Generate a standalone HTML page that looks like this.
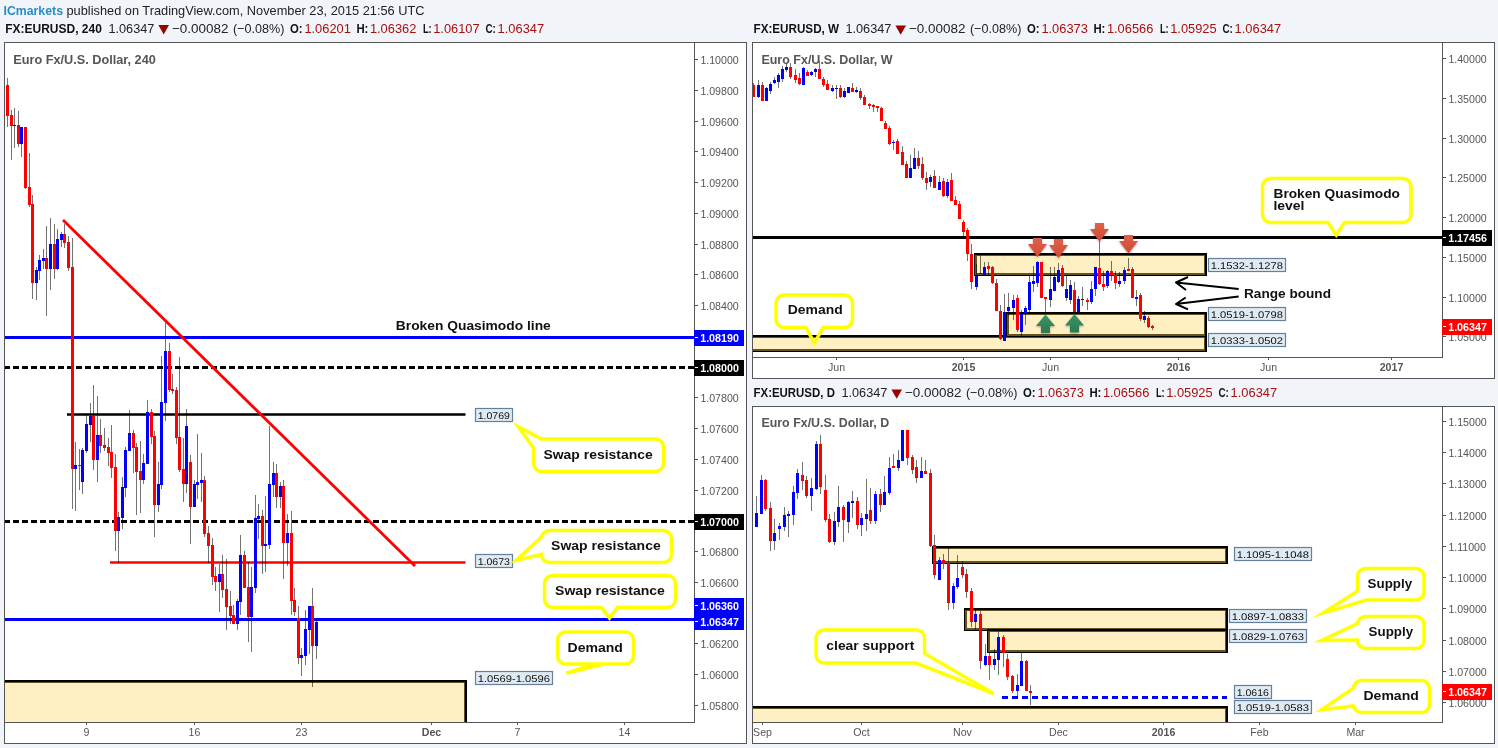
<!DOCTYPE html>
<html><head><meta charset="utf-8"><title>EURUSD</title>
<style>html,body{margin:0;padding:0;background:#f1f5f9;}body{width:1498px;height:748px;overflow:hidden;}svg{position:absolute;left:0;top:0;display:block;will-change:transform;font-family:"Liberation Sans",sans-serif;}</style>
</head><body>
<svg width="1498" height="748" viewBox="0 0 1498 748">
<defs>
<clipPath id="cpL"><rect x="5" y="43" width="689" height="679"/></clipPath>
<clipPath id="cpW"><rect x="753" y="43" width="689" height="314"/></clipPath>
<clipPath id="cpD"><rect x="753" y="407" width="689" height="315"/></clipPath>
<linearGradient id="gr" x1="0" y1="0" x2="0" y2="1"><stop offset="0" stop-color="#e0604a"/><stop offset="1" stop-color="#cf4a33"/></linearGradient>
<linearGradient id="gg" x1="0" y1="0" x2="0" y2="1"><stop offset="0" stop-color="#3a9468"/><stop offset="1" stop-color="#2b7a52"/></linearGradient>
<filter id="sh" x="-30%" y="-30%" width="160%" height="160%"><feGaussianBlur in="SourceAlpha" stdDeviation="0.8"/><feOffset dx="0" dy="1" result="b"/><feComponentTransfer><feFuncA type="linear" slope="0.35"/></feComponentTransfer><feMerge><feMergeNode/><feMergeNode in="SourceGraphic"/></feMerge></filter>
<filter id="glow" x="-20%" y="-20%" width="140%" height="140%"><feGaussianBlur stdDeviation="0.6"/></filter>
</defs>
<rect x="0" y="0" width="1498" height="748" fill="#f1f5f9" />
<text x="3.5" y="14.6" font-size="13" font-weight="bold" fill="#2a8cc4" text-anchor="start" textLength="59.5" lengthAdjust="spacingAndGlyphs" >ICmarkets</text>
<text x="66.5" y="14.6" font-size="13" font-weight="normal" fill="#222" text-anchor="start" textLength="358" lengthAdjust="spacingAndGlyphs" >published on TradingView.com, November 23, 2015 21:56 UTC</text>
<text x="5.2" y="32.6" font-size="13" font-weight="bold" fill="#111" text-anchor="start" textLength="96.7" lengthAdjust="spacingAndGlyphs" >FX:EURUSD, 240</text>
<text x="108.4" y="32.6" font-size="13" font-weight="normal" fill="#222" text-anchor="start" textLength="46" lengthAdjust="spacingAndGlyphs" >1.06347</text>
<path d="M158.4,25.0 L169.0,25.0 L163.70000000000002,34.4 Z" fill="#990000"/>
<text x="171.9" y="32.6" font-size="13" font-weight="normal" fill="#222" text-anchor="start" textLength="56.5" lengthAdjust="spacingAndGlyphs" >−0.00082</text>
<text x="232.9" y="32.6" font-size="13" font-weight="normal" fill="#222" text-anchor="start" textLength="51.5" lengthAdjust="spacingAndGlyphs" >(−0.08%)</text>
<text x="289.9" y="32.6" font-size="13" font-weight="bold" fill="#111" text-anchor="start" textLength="12.6" lengthAdjust="spacingAndGlyphs" >O:</text>
<text x="304.4" y="32.6" font-size="13" font-weight="normal" fill="#a81010" text-anchor="start" textLength="46.5" lengthAdjust="spacingAndGlyphs" >1.06201</text>
<text x="356.4" y="32.6" font-size="13" font-weight="bold" fill="#111" text-anchor="start" textLength="12" lengthAdjust="spacingAndGlyphs" >H:</text>
<text x="369.9" y="32.6" font-size="13" font-weight="normal" fill="#a81010" text-anchor="start" textLength="46.5" lengthAdjust="spacingAndGlyphs" >1.06362</text>
<text x="422.9" y="32.6" font-size="13" font-weight="bold" fill="#111" text-anchor="start" textLength="8.8" lengthAdjust="spacingAndGlyphs" >L:</text>
<text x="433.2" y="32.6" font-size="13" font-weight="normal" fill="#a81010" text-anchor="start" textLength="46.5" lengthAdjust="spacingAndGlyphs" >1.06107</text>
<text x="485.4" y="32.6" font-size="13" font-weight="bold" fill="#111" text-anchor="start" textLength="10.4" lengthAdjust="spacingAndGlyphs" >C:</text>
<text x="497.59999999999997" y="32.6" font-size="13" font-weight="normal" fill="#a81010" text-anchor="start" textLength="46.5" lengthAdjust="spacingAndGlyphs" >1.06347</text>
<text x="753.5" y="33" font-size="13" font-weight="bold" fill="#111" text-anchor="start" textLength="85.6" lengthAdjust="spacingAndGlyphs" >FX:EURUSD, W</text>
<text x="845.4" y="33" font-size="13" font-weight="normal" fill="#222" text-anchor="start" textLength="46" lengthAdjust="spacingAndGlyphs" >1.06347</text>
<path d="M895.4,25.4 L906.0,25.4 L900.6999999999999,34.8 Z" fill="#990000"/>
<text x="908.9" y="33" font-size="13" font-weight="normal" fill="#222" text-anchor="start" textLength="56.5" lengthAdjust="spacingAndGlyphs" >−0.00082</text>
<text x="969.9" y="33" font-size="13" font-weight="normal" fill="#222" text-anchor="start" textLength="51.5" lengthAdjust="spacingAndGlyphs" >(−0.08%)</text>
<text x="1026.9" y="33" font-size="13" font-weight="bold" fill="#111" text-anchor="start" textLength="12.6" lengthAdjust="spacingAndGlyphs" >O:</text>
<text x="1041.4" y="33" font-size="13" font-weight="normal" fill="#a81010" text-anchor="start" textLength="46.5" lengthAdjust="spacingAndGlyphs" >1.06373</text>
<text x="1093.4" y="33" font-size="13" font-weight="bold" fill="#111" text-anchor="start" textLength="12" lengthAdjust="spacingAndGlyphs" >H:</text>
<text x="1106.9" y="33" font-size="13" font-weight="normal" fill="#a81010" text-anchor="start" textLength="46.5" lengthAdjust="spacingAndGlyphs" >1.06566</text>
<text x="1159.9" y="33" font-size="13" font-weight="bold" fill="#111" text-anchor="start" textLength="8.8" lengthAdjust="spacingAndGlyphs" >L:</text>
<text x="1170.2" y="33" font-size="13" font-weight="normal" fill="#a81010" text-anchor="start" textLength="46.5" lengthAdjust="spacingAndGlyphs" >1.05925</text>
<text x="1222.4" y="33" font-size="13" font-weight="bold" fill="#111" text-anchor="start" textLength="10.4" lengthAdjust="spacingAndGlyphs" >C:</text>
<text x="1234.6000000000001" y="33" font-size="13" font-weight="normal" fill="#a81010" text-anchor="start" textLength="46.5" lengthAdjust="spacingAndGlyphs" >1.06347</text>
<text x="753.5" y="397" font-size="13" font-weight="bold" fill="#111" text-anchor="start" textLength="81.4" lengthAdjust="spacingAndGlyphs" >FX:EURUSD, D</text>
<text x="841.4" y="397" font-size="13" font-weight="normal" fill="#222" text-anchor="start" textLength="46" lengthAdjust="spacingAndGlyphs" >1.06347</text>
<path d="M891.4,389.4 L902.0,389.4 L896.6999999999999,398.8 Z" fill="#990000"/>
<text x="904.9" y="397" font-size="13" font-weight="normal" fill="#222" text-anchor="start" textLength="56.5" lengthAdjust="spacingAndGlyphs" >−0.00082</text>
<text x="965.9" y="397" font-size="13" font-weight="normal" fill="#222" text-anchor="start" textLength="51.5" lengthAdjust="spacingAndGlyphs" >(−0.08%)</text>
<text x="1022.9" y="397" font-size="13" font-weight="bold" fill="#111" text-anchor="start" textLength="12.6" lengthAdjust="spacingAndGlyphs" >O:</text>
<text x="1037.4" y="397" font-size="13" font-weight="normal" fill="#a81010" text-anchor="start" textLength="46.5" lengthAdjust="spacingAndGlyphs" >1.06373</text>
<text x="1089.4" y="397" font-size="13" font-weight="bold" fill="#111" text-anchor="start" textLength="12" lengthAdjust="spacingAndGlyphs" >H:</text>
<text x="1102.9" y="397" font-size="13" font-weight="normal" fill="#a81010" text-anchor="start" textLength="46.5" lengthAdjust="spacingAndGlyphs" >1.06566</text>
<text x="1155.9" y="397" font-size="13" font-weight="bold" fill="#111" text-anchor="start" textLength="8.8" lengthAdjust="spacingAndGlyphs" >L:</text>
<text x="1166.2" y="397" font-size="13" font-weight="normal" fill="#a81010" text-anchor="start" textLength="46.5" lengthAdjust="spacingAndGlyphs" >1.05925</text>
<text x="1218.4" y="397" font-size="13" font-weight="bold" fill="#111" text-anchor="start" textLength="10.4" lengthAdjust="spacingAndGlyphs" >C:</text>
<text x="1230.6000000000001" y="397" font-size="13" font-weight="normal" fill="#a81010" text-anchor="start" textLength="46.5" lengthAdjust="spacingAndGlyphs" >1.06347</text>
<g shape-rendering="crispEdges">
<rect x="4" y="42" width="743" height="702" fill="#555555" />
<rect x="5" y="43" width="741" height="700" fill="#fff" />
<rect x="694" y="42" width="1" height="681" fill="#555555" />
<rect x="4" y="722" width="690" height="1" fill="#555555" />
</g>
<g clip-path="url(#cpL)">
<g shape-rendering="crispEdges">
<rect x="2" y="680" width="465" height="80" fill="#000" />
<rect x="3" y="682" width="462" height="77" fill="#65521f" />
<rect x="5" y="683" width="459" height="74" fill="#fff0c4" />
</g>
<g shape-rendering="crispEdges">
<rect x="5" y="336" width="689" height="3" fill="#0000ff" />
<rect x="5" y="618" width="689" height="3" fill="#0000ff" />
</g>
<line x1="4" y1="367.5" x2="694" y2="367.5" stroke="#000" stroke-width="3" stroke-dasharray="6 3" shape-rendering="crispEdges"/>
<line x1="4" y1="521.5" x2="694" y2="521.5" stroke="#000" stroke-width="3" stroke-dasharray="6 3" shape-rendering="crispEdges"/>
<line x1="67" y1="414.5" x2="465.5" y2="414.5" stroke="#000" stroke-width="2.5"/>
<line x1="110" y1="562.5" x2="465.5" y2="562.5" stroke="#ff0000" stroke-width="2.5"/>
<line x1="63" y1="220" x2="415" y2="566" stroke="#ff0000" stroke-width="2.8"/>
<g shape-rendering="crispEdges">
<rect x="7" y="78" width="1" height="49" fill="#000" fill-opacity="0.55"/>
<rect x="6" y="85" width="3" height="31" fill="#ff0000"/>
<rect x="11" y="110" width="1" height="50" fill="#000" fill-opacity="0.55"/>
<rect x="10" y="115" width="3" height="11" fill="#ff0000"/>
<rect x="14" y="108" width="1" height="40" fill="#000" fill-opacity="0.55"/>
<rect x="13" y="125" width="3" height="1" fill="#0000ff"/>
<rect x="18" y="111" width="1" height="36" fill="#000" fill-opacity="0.55"/>
<rect x="17" y="125" width="3" height="19" fill="#ff0000"/>
<rect x="21" y="127" width="1" height="30" fill="#000" fill-opacity="0.55"/>
<rect x="20" y="127" width="3" height="17" fill="#0000ff"/>
<rect x="25" y="127" width="1" height="62" fill="#000" fill-opacity="0.55"/>
<rect x="24" y="127" width="3" height="61" fill="#ff0000"/>
<rect x="29" y="153" width="1" height="54" fill="#000" fill-opacity="0.55"/>
<rect x="28" y="187" width="3" height="18" fill="#ff0000"/>
<rect x="32" y="195" width="1" height="104" fill="#000" fill-opacity="0.55"/>
<rect x="31" y="204" width="3" height="79" fill="#ff0000"/>
<rect x="36" y="267" width="1" height="33" fill="#000" fill-opacity="0.55"/>
<rect x="35" y="270" width="3" height="13" fill="#0000ff"/>
<rect x="39" y="255" width="1" height="25" fill="#000" fill-opacity="0.55"/>
<rect x="38" y="260" width="3" height="11" fill="#0000ff"/>
<rect x="43" y="249" width="1" height="20" fill="#000" fill-opacity="0.55"/>
<rect x="42" y="258" width="3" height="3" fill="#0000ff"/>
<rect x="46" y="226" width="1" height="90" fill="#000" fill-opacity="0.55"/>
<rect x="45" y="258" width="3" height="11" fill="#ff0000"/>
<rect x="50" y="218" width="1" height="72" fill="#000" fill-opacity="0.55"/>
<rect x="49" y="244" width="3" height="25" fill="#0000ff"/>
<rect x="54" y="224" width="1" height="55" fill="#000" fill-opacity="0.55"/>
<rect x="53" y="244" width="3" height="25" fill="#ff0000"/>
<rect x="57" y="229" width="1" height="41" fill="#000" fill-opacity="0.55"/>
<rect x="56" y="239" width="3" height="30" fill="#0000ff"/>
<rect x="61" y="232" width="1" height="15" fill="#000" fill-opacity="0.55"/>
<rect x="60" y="234" width="3" height="6" fill="#0000ff"/>
<rect x="64" y="224" width="1" height="24" fill="#000" fill-opacity="0.55"/>
<rect x="63" y="234" width="3" height="9" fill="#ff0000"/>
<rect x="68" y="236" width="1" height="35" fill="#000" fill-opacity="0.55"/>
<rect x="67" y="242" width="3" height="26" fill="#ff0000"/>
<rect x="72" y="238" width="1" height="271" fill="#000" fill-opacity="0.55"/>
<rect x="71" y="267" width="3" height="202" fill="#ff0000"/>
<rect x="75" y="442" width="1" height="69" fill="#000" fill-opacity="0.55"/>
<rect x="74" y="465" width="3" height="4" fill="#0000ff"/>
<rect x="79" y="449" width="1" height="41" fill="#000" fill-opacity="0.55"/>
<rect x="78" y="465" width="3" height="1" fill="#ff0000"/>
<rect x="82" y="448" width="1" height="46" fill="#000" fill-opacity="0.55"/>
<rect x="81" y="450" width="3" height="32" fill="#0000ff"/>
<rect x="86" y="414" width="1" height="39" fill="#000" fill-opacity="0.55"/>
<rect x="85" y="424" width="3" height="27" fill="#0000ff"/>
<rect x="90" y="403" width="1" height="39" fill="#000" fill-opacity="0.55"/>
<rect x="89" y="416" width="3" height="9" fill="#0000ff"/>
<rect x="93" y="385" width="1" height="85" fill="#000" fill-opacity="0.55"/>
<rect x="92" y="416" width="3" height="44" fill="#ff0000"/>
<rect x="97" y="396" width="1" height="86" fill="#000" fill-opacity="0.55"/>
<rect x="96" y="435" width="3" height="25" fill="#0000ff"/>
<rect x="100" y="419" width="1" height="34" fill="#000" fill-opacity="0.55"/>
<rect x="99" y="435" width="3" height="11" fill="#ff0000"/>
<rect x="104" y="428" width="1" height="23" fill="#000" fill-opacity="0.55"/>
<rect x="103" y="445" width="3" height="3" fill="#ff0000"/>
<rect x="108" y="438" width="1" height="28" fill="#000" fill-opacity="0.55"/>
<rect x="107" y="447" width="3" height="6" fill="#ff0000"/>
<rect x="111" y="425" width="1" height="53" fill="#000" fill-opacity="0.55"/>
<rect x="110" y="452" width="3" height="16" fill="#ff0000"/>
<rect x="115" y="454" width="1" height="97" fill="#000" fill-opacity="0.55"/>
<rect x="114" y="467" width="3" height="64" fill="#ff0000"/>
<rect x="118" y="512" width="1" height="51" fill="#000" fill-opacity="0.55"/>
<rect x="117" y="517" width="3" height="14" fill="#0000ff"/>
<rect x="122" y="477" width="1" height="52" fill="#000" fill-opacity="0.55"/>
<rect x="121" y="487" width="3" height="31" fill="#0000ff"/>
<rect x="125" y="447" width="1" height="50" fill="#000" fill-opacity="0.55"/>
<rect x="124" y="450" width="3" height="38" fill="#0000ff"/>
<rect x="129" y="410" width="1" height="41" fill="#000" fill-opacity="0.55"/>
<rect x="128" y="433" width="3" height="18" fill="#0000ff"/>
<rect x="133" y="430" width="1" height="43" fill="#000" fill-opacity="0.55"/>
<rect x="132" y="433" width="3" height="15" fill="#ff0000"/>
<rect x="136" y="443" width="1" height="72" fill="#000" fill-opacity="0.55"/>
<rect x="135" y="447" width="3" height="25" fill="#ff0000"/>
<rect x="140" y="441" width="1" height="72" fill="#000" fill-opacity="0.55"/>
<rect x="139" y="471" width="3" height="9" fill="#ff0000"/>
<rect x="143" y="454" width="1" height="30" fill="#000" fill-opacity="0.55"/>
<rect x="142" y="463" width="3" height="17" fill="#0000ff"/>
<rect x="147" y="400" width="1" height="64" fill="#000" fill-opacity="0.55"/>
<rect x="146" y="412" width="3" height="52" fill="#0000ff"/>
<rect x="151" y="409" width="1" height="35" fill="#000" fill-opacity="0.55"/>
<rect x="150" y="412" width="3" height="25" fill="#ff0000"/>
<rect x="154" y="431" width="1" height="106" fill="#000" fill-opacity="0.55"/>
<rect x="153" y="436" width="3" height="69" fill="#ff0000"/>
<rect x="158" y="462" width="1" height="50" fill="#000" fill-opacity="0.55"/>
<rect x="157" y="484" width="3" height="21" fill="#0000ff"/>
<rect x="161" y="356" width="1" height="133" fill="#000" fill-opacity="0.55"/>
<rect x="160" y="402" width="3" height="83" fill="#0000ff"/>
<rect x="165" y="323" width="1" height="98" fill="#000" fill-opacity="0.55"/>
<rect x="164" y="351" width="3" height="52" fill="#0000ff"/>
<rect x="169" y="343" width="1" height="49" fill="#000" fill-opacity="0.55"/>
<rect x="168" y="351" width="3" height="39" fill="#ff0000"/>
<rect x="172" y="374" width="1" height="20" fill="#000" fill-opacity="0.55"/>
<rect x="171" y="389" width="3" height="2" fill="#ff0000"/>
<rect x="176" y="387" width="1" height="57" fill="#000" fill-opacity="0.55"/>
<rect x="175" y="390" width="3" height="48" fill="#ff0000"/>
<rect x="179" y="357" width="1" height="115" fill="#000" fill-opacity="0.55"/>
<rect x="178" y="437" width="3" height="33" fill="#ff0000"/>
<rect x="183" y="438" width="1" height="64" fill="#000" fill-opacity="0.55"/>
<rect x="182" y="469" width="3" height="15" fill="#ff0000"/>
<rect x="186" y="409" width="1" height="84" fill="#000" fill-opacity="0.55"/>
<rect x="185" y="426" width="3" height="58" fill="#0000ff"/>
<rect x="190" y="455" width="1" height="89" fill="#000" fill-opacity="0.55"/>
<rect x="189" y="462" width="3" height="45" fill="#ff0000"/>
<rect x="194" y="480" width="1" height="27" fill="#000" fill-opacity="0.55"/>
<rect x="193" y="484" width="3" height="23" fill="#0000ff"/>
<rect x="197" y="434" width="1" height="65" fill="#000" fill-opacity="0.55"/>
<rect x="196" y="482" width="3" height="3" fill="#0000ff"/>
<rect x="201" y="453" width="1" height="49" fill="#000" fill-opacity="0.55"/>
<rect x="200" y="480" width="3" height="3" fill="#0000ff"/>
<rect x="204" y="476" width="1" height="61" fill="#000" fill-opacity="0.55"/>
<rect x="203" y="480" width="3" height="54" fill="#ff0000"/>
<rect x="208" y="526" width="1" height="37" fill="#000" fill-opacity="0.55"/>
<rect x="207" y="533" width="3" height="13" fill="#ff0000"/>
<rect x="212" y="538" width="1" height="47" fill="#000" fill-opacity="0.55"/>
<rect x="211" y="545" width="3" height="32" fill="#ff0000"/>
<rect x="215" y="567" width="1" height="24" fill="#000" fill-opacity="0.55"/>
<rect x="214" y="576" width="3" height="6" fill="#ff0000"/>
<rect x="219" y="564" width="1" height="48" fill="#000" fill-opacity="0.55"/>
<rect x="218" y="574" width="3" height="8" fill="#0000ff"/>
<rect x="222" y="555" width="1" height="43" fill="#000" fill-opacity="0.55"/>
<rect x="221" y="574" width="3" height="16" fill="#ff0000"/>
<rect x="226" y="559" width="1" height="71" fill="#000" fill-opacity="0.55"/>
<rect x="225" y="589" width="3" height="18" fill="#ff0000"/>
<rect x="230" y="591" width="1" height="33" fill="#000" fill-opacity="0.55"/>
<rect x="229" y="606" width="3" height="10" fill="#ff0000"/>
<rect x="233" y="605" width="1" height="19" fill="#000" fill-opacity="0.55"/>
<rect x="232" y="615" width="3" height="9" fill="#ff0000"/>
<rect x="237" y="599" width="1" height="31" fill="#000" fill-opacity="0.55"/>
<rect x="236" y="601" width="3" height="23" fill="#0000ff"/>
<rect x="240" y="535" width="1" height="80" fill="#000" fill-opacity="0.55"/>
<rect x="239" y="555" width="3" height="47" fill="#0000ff"/>
<rect x="244" y="551" width="1" height="37" fill="#000" fill-opacity="0.55"/>
<rect x="243" y="555" width="3" height="33" fill="#ff0000"/>
<rect x="248" y="562" width="1" height="80" fill="#000" fill-opacity="0.55"/>
<rect x="247" y="587" width="3" height="30" fill="#ff0000"/>
<rect x="251" y="567" width="1" height="85" fill="#000" fill-opacity="0.55"/>
<rect x="250" y="587" width="3" height="30" fill="#0000ff"/>
<rect x="255" y="495" width="1" height="98" fill="#000" fill-opacity="0.55"/>
<rect x="254" y="518" width="3" height="70" fill="#0000ff"/>
<rect x="258" y="504" width="1" height="35" fill="#000" fill-opacity="0.55"/>
<rect x="257" y="516" width="3" height="3" fill="#0000ff"/>
<rect x="262" y="510" width="1" height="64" fill="#000" fill-opacity="0.55"/>
<rect x="261" y="516" width="3" height="30" fill="#ff0000"/>
<rect x="265" y="496" width="1" height="76" fill="#000" fill-opacity="0.55"/>
<rect x="264" y="544" width="3" height="2" fill="#0000ff"/>
<rect x="269" y="426" width="1" height="123" fill="#000" fill-opacity="0.55"/>
<rect x="268" y="484" width="3" height="61" fill="#0000ff"/>
<rect x="273" y="462" width="1" height="35" fill="#000" fill-opacity="0.55"/>
<rect x="272" y="473" width="3" height="12" fill="#0000ff"/>
<rect x="276" y="464" width="1" height="44" fill="#000" fill-opacity="0.55"/>
<rect x="275" y="473" width="3" height="24" fill="#ff0000"/>
<rect x="280" y="482" width="1" height="26" fill="#000" fill-opacity="0.55"/>
<rect x="279" y="486" width="3" height="11" fill="#0000ff"/>
<rect x="283" y="480" width="1" height="99" fill="#000" fill-opacity="0.55"/>
<rect x="282" y="486" width="3" height="57" fill="#ff0000"/>
<rect x="287" y="514" width="1" height="52" fill="#000" fill-opacity="0.55"/>
<rect x="286" y="533" width="3" height="10" fill="#0000ff"/>
<rect x="291" y="511" width="1" height="104" fill="#000" fill-opacity="0.55"/>
<rect x="290" y="533" width="3" height="68" fill="#ff0000"/>
<rect x="294" y="588" width="1" height="28" fill="#000" fill-opacity="0.55"/>
<rect x="293" y="600" width="3" height="12" fill="#ff0000"/>
<rect x="298" y="606" width="1" height="58" fill="#000" fill-opacity="0.55"/>
<rect x="297" y="618" width="3" height="40" fill="#ff0000"/>
<rect x="301" y="648" width="1" height="28" fill="#000" fill-opacity="0.55"/>
<rect x="300" y="655" width="3" height="3" fill="#0000ff"/>
<rect x="305" y="610" width="1" height="55" fill="#000" fill-opacity="0.55"/>
<rect x="304" y="629" width="3" height="27" fill="#0000ff"/>
<rect x="309" y="606" width="1" height="48" fill="#000" fill-opacity="0.55"/>
<rect x="308" y="606" width="3" height="24" fill="#0000ff"/>
<rect x="312" y="588" width="1" height="99" fill="#000" fill-opacity="0.55"/>
<rect x="311" y="606" width="3" height="40" fill="#ff0000"/>
<rect x="316" y="620" width="1" height="39" fill="#000" fill-opacity="0.55"/>
<rect x="315" y="622" width="3" height="24" fill="#0000ff"/>
</g>
</g>
<text x="13.3" y="63.5" font-size="13" font-weight="bold" fill="#555" text-anchor="start" textLength="142.5" lengthAdjust="spacingAndGlyphs" >Euro Fx/U.S. Dollar, 240</text>
<text x="395.8" y="329.7" font-size="12.5" font-weight="bold" fill="#111" text-anchor="start" textLength="155" lengthAdjust="spacingAndGlyphs" >Broken Quasimodo line</text>
<rect x="475.5" y="408.5" width="37" height="13" fill="#e0eaf3" stroke="#64809c" stroke-width="1.2"/>
<text x="477.7" y="419.0" font-size="9.7" font-weight="normal" fill="#111" text-anchor="start" textLength="32.2" lengthAdjust="spacingAndGlyphs" style="text-rendering:geometricPrecision">1.0769</text>
<rect x="475.5" y="554.5" width="37" height="13" fill="#e0eaf3" stroke="#64809c" stroke-width="1.2"/>
<text x="477.7" y="565.0" font-size="9.7" font-weight="normal" fill="#111" text-anchor="start" textLength="32.2" lengthAdjust="spacingAndGlyphs" style="text-rendering:geometricPrecision">1.0673</text>
<rect x="475.5" y="671.5" width="77" height="13" fill="#e0eaf3" stroke="#64809c" stroke-width="1.2"/>
<text x="477.7" y="682.0" font-size="9.7" font-weight="normal" fill="#111" text-anchor="start" textLength="72.2" lengthAdjust="spacingAndGlyphs" style="text-rendering:geometricPrecision">1.0569-1.0596</text>
<path d="M541.5,439.0 L655.5,439.0 A8,8 0 0 1 663.5,447.0 L663.5,463.5 A8,8 0 0 1 655.5,471.5 L541.5,471.5 A8,8 0 0 1 533.5,463.5 L533.5,448 L518.39,426.78 Z" fill="none" stroke="#ffff00" stroke-opacity="0.55" stroke-width="3.8" stroke-linejoin="miter" stroke-miterlimit="10" filter="url(#glow)"/>
<path d="M541.5,439.0 L655.5,439.0 A8,8 0 0 1 663.5,447.0 L663.5,463.5 A8,8 0 0 1 655.5,471.5 L541.5,471.5 A8,8 0 0 1 533.5,463.5 L533.5,448 L518.39,426.78 Z" fill="none" stroke="#ffff00" stroke-width="3" stroke-linejoin="miter" stroke-miterlimit="10"/>
<text x="543.4" y="458.8" font-size="12.5" font-weight="bold" fill="#111" text-anchor="start" textLength="109.4" lengthAdjust="spacingAndGlyphs" >Swap resistance</text>
<path d="M549.5,530.5 L663.5,530.5 A8,8 0 0 1 671.5,538.5 L671.5,554.5 A8,8 0 0 1 663.5,562.5 L549.5,562.5 A8,8 0 0 1 541.5,554.5 L541.5,554.5 L516.18,560.28 L541.5,537 L541.5,538.5 A8,8 0 0 1 549.5,530.5 Z" fill="none" stroke="#ffff00" stroke-opacity="0.55" stroke-width="3.8" stroke-linejoin="miter" stroke-miterlimit="10" filter="url(#glow)"/>
<path d="M549.5,530.5 L663.5,530.5 A8,8 0 0 1 671.5,538.5 L671.5,554.5 A8,8 0 0 1 663.5,562.5 L549.5,562.5 A8,8 0 0 1 541.5,554.5 L541.5,554.5 L516.18,560.28 L541.5,537 L541.5,538.5 A8,8 0 0 1 549.5,530.5 Z" fill="none" stroke="#ffff00" stroke-width="3" stroke-linejoin="miter" stroke-miterlimit="10"/>
<text x="551.1" y="549.8" font-size="12.5" font-weight="bold" fill="#111" text-anchor="start" textLength="109.6" lengthAdjust="spacingAndGlyphs" >Swap resistance</text>
<path d="M552.5,575.5 L667.5,575.5 A8,8 0 0 1 675.5,583.5 L675.5,599.5 A8,8 0 0 1 667.5,607.5 L617.5,607.5 L609.5,618.02 L601.5,607.5 L552.5,607.5 A8,8 0 0 1 544.5,599.5 L544.5,583.5 A8,8 0 0 1 552.5,575.5 Z" fill="none" stroke="#ffff00" stroke-opacity="0.55" stroke-width="3.8" stroke-linejoin="miter" stroke-miterlimit="10" filter="url(#glow)"/>
<path d="M552.5,575.5 L667.5,575.5 A8,8 0 0 1 675.5,583.5 L675.5,599.5 A8,8 0 0 1 667.5,607.5 L617.5,607.5 L609.5,618.02 L601.5,607.5 L552.5,607.5 A8,8 0 0 1 544.5,599.5 L544.5,583.5 A8,8 0 0 1 552.5,575.5 Z" fill="none" stroke="#ffff00" stroke-width="3" stroke-linejoin="miter" stroke-miterlimit="10"/>
<text x="555.1" y="594.6" font-size="12.5" font-weight="bold" fill="#111" text-anchor="start" textLength="109.8" lengthAdjust="spacingAndGlyphs" >Swap resistance</text>
<path d="M565.5,632.0 L625.5,632.0 A8,8 0 0 1 633.5,640.0 L633.5,656.0 A8,8 0 0 1 625.5,664.0 L604,664.0 L566.5,673.2 L593,664.0 L565.5,664.0 A8,8 0 0 1 557.5,656.0 L557.5,640.0 A8,8 0 0 1 565.5,632.0 Z" fill="none" stroke="#ffff00" stroke-opacity="0.55" stroke-width="3.8" stroke-linejoin="miter" stroke-miterlimit="10" filter="url(#glow)"/>
<path d="M565.5,632.0 L625.5,632.0 A8,8 0 0 1 633.5,640.0 L633.5,656.0 A8,8 0 0 1 625.5,664.0 L604,664.0 L566.5,673.2 L593,664.0 L565.5,664.0 A8,8 0 0 1 557.5,656.0 L557.5,640.0 A8,8 0 0 1 565.5,632.0 Z" fill="none" stroke="#ffff00" stroke-width="3" stroke-linejoin="miter" stroke-miterlimit="10"/>
<text x="567.5" y="651.8" font-size="12.5" font-weight="bold" fill="#111" text-anchor="start" textLength="55.4" lengthAdjust="spacingAndGlyphs" >Demand</text>
<rect x="695" y="59" width="3" height="1" fill="#555555" shape-rendering="crispEdges"/>
<text x="700.4" y="64.1" font-size="10.6" font-weight="normal" fill="#555555" text-anchor="start" >1.10000</text>
<rect x="695" y="90" width="3" height="1" fill="#555555" shape-rendering="crispEdges"/>
<text x="700.4" y="95.1" font-size="10.6" font-weight="normal" fill="#555555" text-anchor="start" >1.09800</text>
<rect x="695" y="121" width="3" height="1" fill="#555555" shape-rendering="crispEdges"/>
<text x="700.4" y="126.1" font-size="10.6" font-weight="normal" fill="#555555" text-anchor="start" >1.09600</text>
<rect x="695" y="151" width="3" height="1" fill="#555555" shape-rendering="crispEdges"/>
<text x="700.4" y="156.1" font-size="10.6" font-weight="normal" fill="#555555" text-anchor="start" >1.09400</text>
<rect x="695" y="182" width="3" height="1" fill="#555555" shape-rendering="crispEdges"/>
<text x="700.4" y="187.1" font-size="10.6" font-weight="normal" fill="#555555" text-anchor="start" >1.09200</text>
<rect x="695" y="213" width="3" height="1" fill="#555555" shape-rendering="crispEdges"/>
<text x="700.4" y="218.1" font-size="10.6" font-weight="normal" fill="#555555" text-anchor="start" >1.09000</text>
<rect x="695" y="244" width="3" height="1" fill="#555555" shape-rendering="crispEdges"/>
<text x="700.4" y="249.1" font-size="10.6" font-weight="normal" fill="#555555" text-anchor="start" >1.08800</text>
<rect x="695" y="274" width="3" height="1" fill="#555555" shape-rendering="crispEdges"/>
<text x="700.4" y="279.1" font-size="10.6" font-weight="normal" fill="#555555" text-anchor="start" >1.08600</text>
<rect x="695" y="305" width="3" height="1" fill="#555555" shape-rendering="crispEdges"/>
<text x="700.4" y="310.1" font-size="10.6" font-weight="normal" fill="#555555" text-anchor="start" >1.08400</text>
<rect x="695" y="397" width="3" height="1" fill="#555555" shape-rendering="crispEdges"/>
<text x="700.4" y="402.1" font-size="10.6" font-weight="normal" fill="#555555" text-anchor="start" >1.07800</text>
<rect x="695" y="428" width="3" height="1" fill="#555555" shape-rendering="crispEdges"/>
<text x="700.4" y="433.1" font-size="10.6" font-weight="normal" fill="#555555" text-anchor="start" >1.07600</text>
<rect x="695" y="459" width="3" height="1" fill="#555555" shape-rendering="crispEdges"/>
<text x="700.4" y="464.1" font-size="10.6" font-weight="normal" fill="#555555" text-anchor="start" >1.07400</text>
<rect x="695" y="490" width="3" height="1" fill="#555555" shape-rendering="crispEdges"/>
<text x="700.4" y="495.1" font-size="10.6" font-weight="normal" fill="#555555" text-anchor="start" >1.07200</text>
<rect x="695" y="551" width="3" height="1" fill="#555555" shape-rendering="crispEdges"/>
<text x="700.4" y="556.1" font-size="10.6" font-weight="normal" fill="#555555" text-anchor="start" >1.06800</text>
<rect x="695" y="582" width="3" height="1" fill="#555555" shape-rendering="crispEdges"/>
<text x="700.4" y="587.1" font-size="10.6" font-weight="normal" fill="#555555" text-anchor="start" >1.06600</text>
<rect x="695" y="643" width="3" height="1" fill="#555555" shape-rendering="crispEdges"/>
<text x="700.4" y="648.1" font-size="10.6" font-weight="normal" fill="#555555" text-anchor="start" >1.06200</text>
<rect x="695" y="674" width="3" height="1" fill="#555555" shape-rendering="crispEdges"/>
<text x="700.4" y="679.1" font-size="10.6" font-weight="normal" fill="#555555" text-anchor="start" >1.06000</text>
<rect x="695" y="705" width="3" height="1" fill="#555555" shape-rendering="crispEdges"/>
<text x="700.4" y="710.1" font-size="10.6" font-weight="normal" fill="#555555" text-anchor="start" >1.05800</text>
<rect x="694" y="330" width="50" height="16" fill="#0000ff" shape-rendering="crispEdges"/>
<rect x="695" y="337" width="3" height="1" fill="#fff" shape-rendering="crispEdges"/>
<text x="700.2" y="341.9" font-size="10.7" font-weight="bold" fill="#fff" text-anchor="start" >1.08190</text>
<rect x="694" y="360" width="50" height="16" fill="#000" shape-rendering="crispEdges"/>
<rect x="695" y="367" width="3" height="1" fill="#fff" shape-rendering="crispEdges"/>
<text x="700.2" y="371.9" font-size="10.7" font-weight="bold" fill="#fff" text-anchor="start" >1.08000</text>
<rect x="694" y="514" width="50" height="16" fill="#000" shape-rendering="crispEdges"/>
<rect x="695" y="521" width="3" height="1" fill="#fff" shape-rendering="crispEdges"/>
<text x="700.2" y="525.9" font-size="10.7" font-weight="bold" fill="#fff" text-anchor="start" >1.07000</text>
<rect x="694" y="598" width="50" height="16" fill="#0000ff" shape-rendering="crispEdges"/>
<rect x="695" y="605" width="3" height="1" fill="#fff" shape-rendering="crispEdges"/>
<text x="700.2" y="609.9" font-size="10.7" font-weight="bold" fill="#fff" text-anchor="start" >1.06360</text>
<rect x="694" y="614" width="50" height="16" fill="#0000ff" shape-rendering="crispEdges"/>
<rect x="695" y="621" width="3" height="1" fill="#fff" shape-rendering="crispEdges"/>
<text x="700.2" y="625.9" font-size="10.7" font-weight="bold" fill="#fff" text-anchor="start" >1.06347</text>
<rect x="86" y="723" width="1" height="2" fill="#555555" shape-rendering="crispEdges"/>
<text x="86.5" y="735.5" font-size="10.6" font-weight="normal" fill="#555555" text-anchor="middle" >9</text>
<rect x="194" y="723" width="1" height="2" fill="#555555" shape-rendering="crispEdges"/>
<text x="194.5" y="735.5" font-size="10.6" font-weight="normal" fill="#555555" text-anchor="middle" >16</text>
<rect x="301" y="723" width="1" height="2" fill="#555555" shape-rendering="crispEdges"/>
<text x="301.5" y="735.5" font-size="10.6" font-weight="normal" fill="#555555" text-anchor="middle" >23</text>
<rect x="431" y="723" width="1" height="2" fill="#555555" shape-rendering="crispEdges"/>
<text x="431.5" y="735.5" font-size="10.6" font-weight="bold" fill="#555555" text-anchor="middle" >Dec</text>
<rect x="517" y="723" width="1" height="2" fill="#555555" shape-rendering="crispEdges"/>
<text x="517.5" y="735.5" font-size="10.6" font-weight="normal" fill="#555555" text-anchor="middle" >7</text>
<rect x="624" y="723" width="1" height="2" fill="#555555" shape-rendering="crispEdges"/>
<text x="624.5" y="735.5" font-size="10.6" font-weight="normal" fill="#555555" text-anchor="middle" >14</text>
<g shape-rendering="crispEdges">
<rect x="752" y="42" width="743" height="337" fill="#555555" />
<rect x="753" y="43" width="741" height="335" fill="#fff" />
<rect x="1442" y="42" width="1" height="316" fill="#555555" />
<rect x="752" y="357" width="690" height="1" fill="#555555" />
</g>
<g clip-path="url(#cpW)">
<g shape-rendering="crispEdges">
<rect x="750" y="335" width="457" height="17" fill="#000" />
<rect x="751" y="337" width="454" height="14" fill="#65521f" />
<rect x="753" y="338" width="451" height="11" fill="#fff0c4" />
</g>
<g shape-rendering="crispEdges">
<rect x="1006" y="312" width="201" height="25" fill="#000" />
<rect x="1007" y="314" width="198" height="22" fill="#65521f" />
<rect x="1009" y="315" width="195" height="19" fill="#fff0c4" />
</g>
<g shape-rendering="crispEdges">
<rect x="974" y="253" width="233" height="23" fill="#000" />
<rect x="975" y="255" width="230" height="20" fill="#65521f" />
<rect x="977" y="256" width="227" height="17" fill="#fff0c4" />
</g>
<rect x="753" y="236" width="689" height="3" fill="#000" shape-rendering="crispEdges"/>
<g shape-rendering="crispEdges">
<rect x="753" y="83" width="1" height="14" fill="#000" fill-opacity="0.55"/>
<rect x="752" y="85" width="3" height="12" fill="#ff0000"/>
<rect x="758" y="80" width="1" height="18" fill="#000" fill-opacity="0.55"/>
<rect x="757" y="85" width="3" height="12" fill="#0000ff"/>
<rect x="762" y="82" width="1" height="19" fill="#000" fill-opacity="0.55"/>
<rect x="761" y="85" width="3" height="16" fill="#ff0000"/>
<rect x="766" y="87" width="1" height="14" fill="#000" fill-opacity="0.55"/>
<rect x="765" y="88" width="3" height="13" fill="#0000ff"/>
<rect x="770" y="82" width="1" height="12" fill="#000" fill-opacity="0.55"/>
<rect x="769" y="84" width="3" height="7" fill="#0000ff"/>
<rect x="774" y="77" width="1" height="7" fill="#000" fill-opacity="0.55"/>
<rect x="773" y="80" width="3" height="3" fill="#0000ff"/>
<rect x="778" y="73" width="1" height="15" fill="#000" fill-opacity="0.55"/>
<rect x="777" y="75" width="3" height="7" fill="#0000ff"/>
<rect x="782" y="66" width="1" height="16" fill="#000" fill-opacity="0.55"/>
<rect x="781" y="69" width="3" height="10" fill="#0000ff"/>
<rect x="786" y="63" width="1" height="9" fill="#000" fill-opacity="0.55"/>
<rect x="785" y="67" width="3" height="3" fill="#0000ff"/>
<rect x="790" y="63" width="1" height="16" fill="#000" fill-opacity="0.55"/>
<rect x="789" y="67" width="3" height="10" fill="#ff0000"/>
<rect x="795" y="69" width="1" height="14" fill="#000" fill-opacity="0.55"/>
<rect x="794" y="75" width="3" height="5" fill="#ff0000"/>
<rect x="799" y="73" width="1" height="12" fill="#000" fill-opacity="0.55"/>
<rect x="798" y="78" width="3" height="6" fill="#ff0000"/>
<rect x="803" y="67" width="1" height="18" fill="#000" fill-opacity="0.55"/>
<rect x="802" y="68" width="3" height="17" fill="#0000ff"/>
<rect x="807" y="70" width="1" height="6" fill="#000" fill-opacity="0.55"/>
<rect x="806" y="72" width="3" height="4" fill="#ff0000"/>
<rect x="811" y="71" width="1" height="5" fill="#000" fill-opacity="0.55"/>
<rect x="810" y="72" width="3" height="3" fill="#0000ff"/>
<rect x="815" y="68" width="1" height="9" fill="#000" fill-opacity="0.55"/>
<rect x="814" y="69" width="3" height="3" fill="#0000ff"/>
<rect x="819" y="61" width="1" height="18" fill="#000" fill-opacity="0.55"/>
<rect x="818" y="69" width="3" height="10" fill="#ff0000"/>
<rect x="823" y="77" width="1" height="10" fill="#000" fill-opacity="0.55"/>
<rect x="822" y="79" width="3" height="6" fill="#ff0000"/>
<rect x="827" y="80" width="1" height="10" fill="#000" fill-opacity="0.55"/>
<rect x="826" y="84" width="3" height="6" fill="#ff0000"/>
<rect x="832" y="85" width="1" height="7" fill="#000" fill-opacity="0.55"/>
<rect x="831" y="88" width="3" height="3" fill="#0000ff"/>
<rect x="836" y="85" width="1" height="14" fill="#000" fill-opacity="0.55"/>
<rect x="835" y="88" width="3" height="1" fill="#0000ff"/>
<rect x="840" y="85" width="1" height="13" fill="#000" fill-opacity="0.55"/>
<rect x="839" y="88" width="3" height="9" fill="#ff0000"/>
<rect x="844" y="88" width="1" height="10" fill="#000" fill-opacity="0.55"/>
<rect x="843" y="91" width="3" height="6" fill="#0000ff"/>
<rect x="848" y="87" width="1" height="6" fill="#000" fill-opacity="0.55"/>
<rect x="847" y="87" width="3" height="6" fill="#0000ff"/>
<rect x="852" y="83" width="1" height="9" fill="#000" fill-opacity="0.55"/>
<rect x="851" y="88" width="3" height="4" fill="#ff0000"/>
<rect x="856" y="87" width="1" height="6" fill="#000" fill-opacity="0.55"/>
<rect x="855" y="90" width="3" height="2" fill="#0000ff"/>
<rect x="860" y="88" width="1" height="12" fill="#000" fill-opacity="0.55"/>
<rect x="859" y="91" width="3" height="7" fill="#ff0000"/>
<rect x="864" y="95" width="1" height="10" fill="#000" fill-opacity="0.55"/>
<rect x="863" y="97" width="3" height="8" fill="#ff0000"/>
<rect x="869" y="103" width="1" height="6" fill="#000" fill-opacity="0.55"/>
<rect x="868" y="104" width="3" height="2" fill="#ff0000"/>
<rect x="873" y="104" width="1" height="8" fill="#000" fill-opacity="0.55"/>
<rect x="872" y="105" width="3" height="2" fill="#ff0000"/>
<rect x="877" y="106" width="1" height="6" fill="#000" fill-opacity="0.55"/>
<rect x="876" y="106" width="3" height="2" fill="#ff0000"/>
<rect x="881" y="107" width="1" height="14" fill="#000" fill-opacity="0.55"/>
<rect x="880" y="108" width="3" height="13" fill="#ff0000"/>
<rect x="885" y="121" width="1" height="8" fill="#000" fill-opacity="0.55"/>
<rect x="884" y="123" width="3" height="6" fill="#ff0000"/>
<rect x="889" y="126" width="1" height="19" fill="#000" fill-opacity="0.55"/>
<rect x="888" y="128" width="3" height="16" fill="#ff0000"/>
<rect x="893" y="140" width="1" height="10" fill="#000" fill-opacity="0.55"/>
<rect x="892" y="142" width="3" height="1" fill="#0000ff"/>
<rect x="897" y="139" width="1" height="15" fill="#000" fill-opacity="0.55"/>
<rect x="896" y="141" width="3" height="13" fill="#ff0000"/>
<rect x="902" y="146" width="1" height="19" fill="#000" fill-opacity="0.55"/>
<rect x="901" y="152" width="3" height="13" fill="#ff0000"/>
<rect x="906" y="161" width="1" height="17" fill="#000" fill-opacity="0.55"/>
<rect x="905" y="164" width="3" height="14" fill="#ff0000"/>
<rect x="910" y="155" width="1" height="23" fill="#000" fill-opacity="0.55"/>
<rect x="909" y="168" width="3" height="10" fill="#0000ff"/>
<rect x="914" y="148" width="1" height="21" fill="#000" fill-opacity="0.55"/>
<rect x="913" y="158" width="3" height="11" fill="#0000ff"/>
<rect x="918" y="151" width="1" height="18" fill="#000" fill-opacity="0.55"/>
<rect x="917" y="158" width="3" height="8" fill="#ff0000"/>
<rect x="922" y="157" width="1" height="23" fill="#000" fill-opacity="0.55"/>
<rect x="921" y="164" width="3" height="14" fill="#ff0000"/>
<rect x="926" y="172" width="1" height="18" fill="#000" fill-opacity="0.55"/>
<rect x="925" y="178" width="3" height="5" fill="#ff0000"/>
<rect x="930" y="175" width="1" height="12" fill="#000" fill-opacity="0.55"/>
<rect x="929" y="177" width="3" height="5" fill="#0000ff"/>
<rect x="934" y="170" width="1" height="18" fill="#000" fill-opacity="0.55"/>
<rect x="933" y="176" width="3" height="12" fill="#ff0000"/>
<rect x="939" y="176" width="1" height="14" fill="#000" fill-opacity="0.55"/>
<rect x="938" y="182" width="3" height="8" fill="#0000ff"/>
<rect x="943" y="178" width="1" height="19" fill="#000" fill-opacity="0.55"/>
<rect x="942" y="181" width="3" height="15" fill="#ff0000"/>
<rect x="947" y="179" width="1" height="19" fill="#000" fill-opacity="0.55"/>
<rect x="946" y="182" width="3" height="14" fill="#0000ff"/>
<rect x="951" y="173" width="1" height="28" fill="#000" fill-opacity="0.55"/>
<rect x="950" y="180" width="3" height="21" fill="#ff0000"/>
<rect x="955" y="196" width="1" height="9" fill="#000" fill-opacity="0.55"/>
<rect x="954" y="200" width="3" height="5" fill="#ff0000"/>
<rect x="959" y="201" width="1" height="18" fill="#000" fill-opacity="0.55"/>
<rect x="958" y="204" width="3" height="15" fill="#ff0000"/>
<rect x="963" y="220" width="1" height="18" fill="#000" fill-opacity="0.55"/>
<rect x="962" y="222" width="3" height="10" fill="#ff0000"/>
<rect x="967" y="228" width="1" height="33" fill="#000" fill-opacity="0.55"/>
<rect x="966" y="230" width="3" height="24" fill="#ff0000"/>
<rect x="971" y="244" width="1" height="45" fill="#000" fill-opacity="0.55"/>
<rect x="970" y="254" width="3" height="28" fill="#ff0000"/>
<rect x="976" y="264" width="1" height="26" fill="#000" fill-opacity="0.55"/>
<rect x="975" y="276" width="3" height="11" fill="#0000ff"/>
<rect x="980" y="255" width="1" height="19" fill="#000" fill-opacity="0.55"/>
<rect x="979" y="273" width="3" height="1" fill="#0000ff"/>
<rect x="984" y="262" width="1" height="14" fill="#000" fill-opacity="0.55"/>
<rect x="983" y="267" width="3" height="8" fill="#0000ff"/>
<rect x="988" y="262" width="1" height="13" fill="#000" fill-opacity="0.55"/>
<rect x="987" y="266" width="3" height="3" fill="#ff0000"/>
<rect x="992" y="266" width="1" height="18" fill="#000" fill-opacity="0.55"/>
<rect x="991" y="267" width="3" height="16" fill="#ff0000"/>
<rect x="996" y="279" width="1" height="32" fill="#000" fill-opacity="0.55"/>
<rect x="995" y="283" width="3" height="28" fill="#ff0000"/>
<rect x="1000" y="305" width="1" height="35" fill="#000" fill-opacity="0.55"/>
<rect x="999" y="311" width="3" height="28" fill="#ff0000"/>
<rect x="1004" y="294" width="1" height="47" fill="#000" fill-opacity="0.55"/>
<rect x="1003" y="312" width="3" height="29" fill="#0000ff"/>
<rect x="1008" y="293" width="1" height="23" fill="#000" fill-opacity="0.55"/>
<rect x="1007" y="307" width="3" height="4" fill="#0000ff"/>
<rect x="1013" y="295" width="1" height="25" fill="#000" fill-opacity="0.55"/>
<rect x="1012" y="300" width="3" height="8" fill="#0000ff"/>
<rect x="1017" y="295" width="1" height="37" fill="#000" fill-opacity="0.55"/>
<rect x="1016" y="298" width="3" height="32" fill="#ff0000"/>
<rect x="1021" y="310" width="1" height="26" fill="#000" fill-opacity="0.55"/>
<rect x="1020" y="314" width="3" height="18" fill="#0000ff"/>
<rect x="1025" y="306" width="1" height="19" fill="#000" fill-opacity="0.55"/>
<rect x="1024" y="308" width="3" height="5" fill="#0000ff"/>
<rect x="1029" y="275" width="1" height="37" fill="#000" fill-opacity="0.55"/>
<rect x="1028" y="282" width="3" height="28" fill="#0000ff"/>
<rect x="1033" y="266" width="1" height="26" fill="#000" fill-opacity="0.55"/>
<rect x="1032" y="281" width="3" height="3" fill="#0000ff"/>
<rect x="1037" y="261" width="1" height="26" fill="#000" fill-opacity="0.55"/>
<rect x="1036" y="262" width="3" height="21" fill="#0000ff"/>
<rect x="1041" y="262" width="1" height="36" fill="#000" fill-opacity="0.55"/>
<rect x="1040" y="262" width="3" height="36" fill="#ff0000"/>
<rect x="1045" y="297" width="1" height="15" fill="#000" fill-opacity="0.55"/>
<rect x="1044" y="297" width="3" height="2" fill="#ff0000"/>
<rect x="1050" y="267" width="1" height="40" fill="#000" fill-opacity="0.55"/>
<rect x="1049" y="289" width="3" height="11" fill="#0000ff"/>
<rect x="1054" y="267" width="1" height="24" fill="#000" fill-opacity="0.55"/>
<rect x="1053" y="277" width="3" height="14" fill="#0000ff"/>
<rect x="1058" y="263" width="1" height="20" fill="#000" fill-opacity="0.55"/>
<rect x="1057" y="270" width="3" height="12" fill="#0000ff"/>
<rect x="1062" y="265" width="1" height="22" fill="#000" fill-opacity="0.55"/>
<rect x="1061" y="268" width="3" height="18" fill="#ff0000"/>
<rect x="1066" y="276" width="1" height="25" fill="#000" fill-opacity="0.55"/>
<rect x="1065" y="289" width="3" height="9" fill="#0000ff"/>
<rect x="1070" y="280" width="1" height="24" fill="#000" fill-opacity="0.55"/>
<rect x="1069" y="285" width="3" height="15" fill="#0000ff"/>
<rect x="1074" y="282" width="1" height="30" fill="#000" fill-opacity="0.55"/>
<rect x="1073" y="290" width="3" height="22" fill="#ff0000"/>
<rect x="1078" y="296" width="1" height="17" fill="#000" fill-opacity="0.55"/>
<rect x="1077" y="299" width="3" height="13" fill="#0000ff"/>
<rect x="1082" y="287" width="1" height="19" fill="#000" fill-opacity="0.55"/>
<rect x="1081" y="299" width="3" height="1" fill="#0000ff"/>
<rect x="1087" y="298" width="1" height="12" fill="#000" fill-opacity="0.55"/>
<rect x="1086" y="300" width="3" height="2" fill="#ff0000"/>
<rect x="1091" y="281" width="1" height="23" fill="#000" fill-opacity="0.55"/>
<rect x="1090" y="289" width="3" height="13" fill="#0000ff"/>
<rect x="1095" y="267" width="1" height="29" fill="#000" fill-opacity="0.55"/>
<rect x="1094" y="267" width="3" height="22" fill="#0000ff"/>
<rect x="1099" y="240" width="1" height="45" fill="#000" fill-opacity="0.55"/>
<rect x="1098" y="268" width="3" height="16" fill="#ff0000"/>
<rect x="1103" y="271" width="1" height="20" fill="#000" fill-opacity="0.55"/>
<rect x="1102" y="284" width="3" height="3" fill="#ff0000"/>
<rect x="1107" y="270" width="1" height="18" fill="#000" fill-opacity="0.55"/>
<rect x="1106" y="271" width="3" height="15" fill="#0000ff"/>
<rect x="1111" y="261" width="1" height="20" fill="#000" fill-opacity="0.55"/>
<rect x="1110" y="271" width="3" height="4" fill="#ff0000"/>
<rect x="1115" y="271" width="1" height="18" fill="#000" fill-opacity="0.55"/>
<rect x="1114" y="275" width="3" height="8" fill="#ff0000"/>
<rect x="1119" y="272" width="1" height="15" fill="#000" fill-opacity="0.55"/>
<rect x="1118" y="281" width="3" height="3" fill="#0000ff"/>
<rect x="1124" y="267" width="1" height="17" fill="#000" fill-opacity="0.55"/>
<rect x="1123" y="270" width="3" height="11" fill="#0000ff"/>
<rect x="1128" y="258" width="1" height="13" fill="#000" fill-opacity="0.55"/>
<rect x="1127" y="269" width="3" height="2" fill="#ff0000"/>
<rect x="1132" y="267" width="1" height="31" fill="#000" fill-opacity="0.55"/>
<rect x="1131" y="269" width="3" height="29" fill="#ff0000"/>
<rect x="1136" y="290" width="1" height="16" fill="#000" fill-opacity="0.55"/>
<rect x="1135" y="297" width="3" height="2" fill="#0000ff"/>
<rect x="1140" y="293" width="1" height="28" fill="#000" fill-opacity="0.55"/>
<rect x="1139" y="295" width="3" height="24" fill="#ff0000"/>
<rect x="1144" y="311" width="1" height="12" fill="#000" fill-opacity="0.55"/>
<rect x="1143" y="316" width="3" height="4" fill="#0000ff"/>
<rect x="1148" y="316" width="1" height="12" fill="#000" fill-opacity="0.55"/>
<rect x="1147" y="318" width="3" height="9" fill="#ff0000"/>
<rect x="1152" y="325" width="1" height="5" fill="#000" fill-opacity="0.55"/>
<rect x="1151" y="326" width="3" height="2" fill="#ff0000"/>
</g>
<path d="M1033.0,238 L1042.0,238 L1042.0,244 L1047.0,244 L1037.5,257 L1028.0,244 L1033.0,244 Z" fill="url(#gr)" filter="url(#sh)"/>
<path d="M1054.0,239 L1063.0,239 L1063.0,245 L1068.0,245 L1058.5,258 L1049.0,245 L1054.0,245 Z" fill="url(#gr)" filter="url(#sh)"/>
<path d="M1095.0,223 L1104.0,223 L1104.0,229 L1109.0,229 L1099.5,241.5 L1090.0,229 L1095.0,229 Z" fill="url(#gr)" filter="url(#sh)"/>
<path d="M1124.0,235 L1133.0,235 L1133.0,241 L1138.0,241 L1128.5,253.5 L1119.0,241 L1124.0,241 Z" fill="url(#gr)" filter="url(#sh)"/>
<path d="M1045.5,314.5 L1055.0,326.0 L1050.0,326.0 L1050.0,333 L1041.0,333 L1041.0,326.0 L1036.0,326.0 Z" fill="url(#gg)" filter="url(#sh)"/>
<path d="M1074.5,314 L1084.0,325.5 L1079.0,325.5 L1079.0,332.5 L1070.0,332.5 L1070.0,325.5 L1065.0,325.5 Z" fill="url(#gg)" filter="url(#sh)"/>
<g fill="none" stroke="#000" stroke-width="2" stroke-linecap="butt" stroke-linejoin="round">
<path d="M1238.7,289 L1176,282.5 M1188,277 L1176,282.5 L1186,290"/>
<path d="M1238.7,296.4 L1176,304 M1185.7,297.5 L1176,304 L1188,309.4"/>
</g>
</g>
<text x="761.4" y="64" font-size="13" font-weight="bold" fill="#555" text-anchor="start" textLength="131.2" lengthAdjust="spacingAndGlyphs" >Euro Fx/U.S. Dollar, W</text>
<rect x="1208.5" y="258.5" width="77" height="13" fill="#e0eaf3" stroke="#64809c" stroke-width="1.2"/>
<text x="1210.7" y="269.0" font-size="9.7" font-weight="normal" fill="#111" text-anchor="start" textLength="72.2" lengthAdjust="spacingAndGlyphs" style="text-rendering:geometricPrecision">1.1532-1.1278</text>
<rect x="1208.5" y="307.5" width="77" height="13" fill="#e0eaf3" stroke="#64809c" stroke-width="1.2"/>
<text x="1210.7" y="318.0" font-size="9.7" font-weight="normal" fill="#111" text-anchor="start" textLength="72.2" lengthAdjust="spacingAndGlyphs" style="text-rendering:geometricPrecision">1.0519-1.0798</text>
<rect x="1208.5" y="333.5" width="77" height="13" fill="#e0eaf3" stroke="#64809c" stroke-width="1.2"/>
<text x="1210.7" y="344.0" font-size="9.7" font-weight="normal" fill="#111" text-anchor="start" textLength="72.2" lengthAdjust="spacingAndGlyphs" style="text-rendering:geometricPrecision">1.0333-1.0502</text>
<text x="1244" y="297.6" font-size="12.5" font-weight="bold" fill="#111" text-anchor="start" textLength="87" lengthAdjust="spacingAndGlyphs" >Range bound</text>
<path d="M1270.5,178.5 L1403.0,178.5 A8,8 0 0 1 1411.0,186.5 L1411.0,214.5 A8,8 0 0 1 1403.0,222.5 L1344.5,222.5 L1336.29,234.98 L1328,222.5 L1270.5,222.5 A8,8 0 0 1 1262.5,214.5 L1262.5,186.5 A8,8 0 0 1 1270.5,178.5 Z" fill="none" stroke="#ffff00" stroke-opacity="0.55" stroke-width="3.8" stroke-linejoin="miter" stroke-miterlimit="10" filter="url(#glow)"/>
<path d="M1270.5,178.5 L1403.0,178.5 A8,8 0 0 1 1411.0,186.5 L1411.0,214.5 A8,8 0 0 1 1403.0,222.5 L1344.5,222.5 L1336.29,234.98 L1328,222.5 L1270.5,222.5 A8,8 0 0 1 1262.5,214.5 L1262.5,186.5 A8,8 0 0 1 1270.5,178.5 Z" fill="none" stroke="#ffff00" stroke-width="3" stroke-linejoin="miter" stroke-miterlimit="10"/>
<text x="1273.5" y="197.6" font-size="12.5" font-weight="bold" fill="#111" text-anchor="start" textLength="126.5" lengthAdjust="spacingAndGlyphs" >Broken Quasimodo</text>
<text x="1273.5" y="209.6" font-size="12.5" font-weight="bold" fill="#111" text-anchor="start" textLength="31" lengthAdjust="spacingAndGlyphs" >level</text>
<path d="M784.0,295.0 L844.5,295.0 A8,8 0 0 1 852.5,303.0 L852.5,319.5 A8,8 0 0 1 844.5,327.5 L823,327.5 L814.41,343.16 L806,327.5 L784.0,327.5 A8,8 0 0 1 776.0,319.5 L776.0,303.0 A8,8 0 0 1 784.0,295.0 Z" fill="none" stroke="#ffff00" stroke-opacity="0.55" stroke-width="3.8" stroke-linejoin="miter" stroke-miterlimit="10" filter="url(#glow)"/>
<path d="M784.0,295.0 L844.5,295.0 A8,8 0 0 1 852.5,303.0 L852.5,319.5 A8,8 0 0 1 844.5,327.5 L823,327.5 L814.41,343.16 L806,327.5 L784.0,327.5 A8,8 0 0 1 776.0,319.5 L776.0,303.0 A8,8 0 0 1 784.0,295.0 Z" fill="none" stroke="#ffff00" stroke-width="3" stroke-linejoin="miter" stroke-miterlimit="10"/>
<text x="787.8" y="314.4" font-size="12.5" font-weight="bold" fill="#111" text-anchor="start" textLength="55" lengthAdjust="spacingAndGlyphs" >Demand</text>
<rect x="1443" y="58" width="3" height="1" fill="#555555" shape-rendering="crispEdges"/>
<text x="1448.4" y="63.1" font-size="10.6" font-weight="normal" fill="#555555" text-anchor="start" >1.40000</text>
<rect x="1443" y="98" width="3" height="1" fill="#555555" shape-rendering="crispEdges"/>
<text x="1448.4" y="103.1" font-size="10.6" font-weight="normal" fill="#555555" text-anchor="start" >1.35000</text>
<rect x="1443" y="138" width="3" height="1" fill="#555555" shape-rendering="crispEdges"/>
<text x="1448.4" y="143.1" font-size="10.6" font-weight="normal" fill="#555555" text-anchor="start" >1.30000</text>
<rect x="1443" y="177" width="3" height="1" fill="#555555" shape-rendering="crispEdges"/>
<text x="1448.4" y="182.1" font-size="10.6" font-weight="normal" fill="#555555" text-anchor="start" >1.25000</text>
<rect x="1443" y="217" width="3" height="1" fill="#555555" shape-rendering="crispEdges"/>
<text x="1448.4" y="222.1" font-size="10.6" font-weight="normal" fill="#555555" text-anchor="start" >1.20000</text>
<rect x="1443" y="257" width="3" height="1" fill="#555555" shape-rendering="crispEdges"/>
<text x="1448.4" y="262.1" font-size="10.6" font-weight="normal" fill="#555555" text-anchor="start" >1.15000</text>
<rect x="1443" y="297" width="3" height="1" fill="#555555" shape-rendering="crispEdges"/>
<text x="1448.4" y="302.1" font-size="10.6" font-weight="normal" fill="#555555" text-anchor="start" >1.10000</text>
<rect x="1443" y="336" width="3" height="1" fill="#555555" shape-rendering="crispEdges"/>
<text x="1448.4" y="341.1" font-size="10.6" font-weight="normal" fill="#555555" text-anchor="start" >1.05000</text>
<rect x="1442" y="230" width="50" height="16" fill="#000" shape-rendering="crispEdges"/>
<rect x="1443" y="237" width="3" height="1" fill="#fff" shape-rendering="crispEdges"/>
<text x="1448.2" y="241.9" font-size="10.7" font-weight="bold" fill="#fff" text-anchor="start" >1.17456</text>
<rect x="1442" y="319" width="50" height="16" fill="#ff0000" shape-rendering="crispEdges"/>
<rect x="1443" y="326" width="3" height="1" fill="#fff" shape-rendering="crispEdges"/>
<text x="1448.2" y="330.9" font-size="10.7" font-weight="bold" fill="#fff" text-anchor="start" >1.06347</text>
<rect x="836" y="358" width="1" height="2" fill="#555555" shape-rendering="crispEdges"/>
<text x="836.5" y="370.5" font-size="10.6" font-weight="normal" fill="#555555" text-anchor="middle" >Jun</text>
<rect x="963" y="358" width="1" height="2" fill="#555555" shape-rendering="crispEdges"/>
<text x="963.5" y="370.5" font-size="10.6" font-weight="bold" fill="#555555" text-anchor="middle" >2015</text>
<rect x="1050" y="358" width="1" height="2" fill="#555555" shape-rendering="crispEdges"/>
<text x="1050.5" y="370.5" font-size="10.6" font-weight="normal" fill="#555555" text-anchor="middle" >Jun</text>
<rect x="1178" y="358" width="1" height="2" fill="#555555" shape-rendering="crispEdges"/>
<text x="1178.5" y="370.5" font-size="10.6" font-weight="bold" fill="#555555" text-anchor="middle" >2016</text>
<rect x="1268" y="358" width="1" height="2" fill="#555555" shape-rendering="crispEdges"/>
<text x="1268.5" y="370.5" font-size="10.6" font-weight="normal" fill="#555555" text-anchor="middle" >Jun</text>
<rect x="1391" y="358" width="1" height="2" fill="#555555" shape-rendering="crispEdges"/>
<text x="1391.5" y="370.5" font-size="10.6" font-weight="bold" fill="#555555" text-anchor="middle" >2017</text>
<g shape-rendering="crispEdges">
<rect x="752" y="406" width="743" height="338" fill="#555555" />
<rect x="753" y="407" width="741" height="336" fill="#fff" />
<rect x="1442" y="406" width="1" height="317" fill="#555555" />
<rect x="752" y="722" width="690" height="1" fill="#555555" />
</g>
<g clip-path="url(#cpD)">
<g shape-rendering="crispEdges">
<rect x="750" y="706" width="478" height="54" fill="#000" />
<rect x="751" y="708" width="475" height="51" fill="#65521f" />
<rect x="753" y="709" width="472" height="48" fill="#fff0c4" />
</g>
<g shape-rendering="crispEdges">
<rect x="932" y="546" width="296" height="18" fill="#000" />
<rect x="933" y="548" width="293" height="15" fill="#65521f" />
<rect x="935" y="549" width="290" height="12" fill="#fff0c4" />
</g>
<g shape-rendering="crispEdges">
<rect x="964" y="608" width="264" height="23" fill="#000" />
<rect x="965" y="610" width="261" height="20" fill="#65521f" />
<rect x="967" y="611" width="258" height="17" fill="#fff0c4" />
</g>
<g shape-rendering="crispEdges">
<rect x="987" y="629" width="241" height="24" fill="#000" />
<rect x="988" y="631" width="238" height="21" fill="#65521f" />
<rect x="990" y="632" width="235" height="18" fill="#fff0c4" />
</g>
<line x1="1002" y1="697.5" x2="1227" y2="697.5" stroke="#0000ff" stroke-width="3" stroke-dasharray="6 4" shape-rendering="crispEdges"/>
<g shape-rendering="crispEdges">
<rect x="756" y="496" width="1" height="31" fill="#000" fill-opacity="0.55"/>
<rect x="755" y="513" width="3" height="14" fill="#0000ff"/>
<rect x="761" y="475" width="1" height="39" fill="#000" fill-opacity="0.55"/>
<rect x="760" y="480" width="3" height="34" fill="#0000ff"/>
<rect x="765" y="479" width="1" height="32" fill="#000" fill-opacity="0.55"/>
<rect x="764" y="480" width="3" height="29" fill="#ff0000"/>
<rect x="770" y="502" width="1" height="49" fill="#000" fill-opacity="0.55"/>
<rect x="769" y="508" width="3" height="33" fill="#ff0000"/>
<rect x="774" y="519" width="1" height="31" fill="#000" fill-opacity="0.55"/>
<rect x="773" y="533" width="3" height="8" fill="#0000ff"/>
<rect x="779" y="523" width="1" height="17" fill="#000" fill-opacity="0.55"/>
<rect x="778" y="526" width="3" height="3" fill="#0000ff"/>
<rect x="784" y="507" width="1" height="24" fill="#000" fill-opacity="0.55"/>
<rect x="783" y="515" width="3" height="12" fill="#0000ff"/>
<rect x="788" y="511" width="1" height="26" fill="#000" fill-opacity="0.55"/>
<rect x="787" y="514" width="3" height="2" fill="#0000ff"/>
<rect x="793" y="486" width="1" height="39" fill="#000" fill-opacity="0.55"/>
<rect x="792" y="492" width="3" height="23" fill="#0000ff"/>
<rect x="797" y="469" width="1" height="30" fill="#000" fill-opacity="0.55"/>
<rect x="796" y="473" width="3" height="20" fill="#0000ff"/>
<rect x="802" y="462" width="1" height="28" fill="#000" fill-opacity="0.55"/>
<rect x="801" y="475" width="3" height="6" fill="#ff0000"/>
<rect x="806" y="476" width="1" height="22" fill="#000" fill-opacity="0.55"/>
<rect x="805" y="480" width="3" height="16" fill="#ff0000"/>
<rect x="811" y="478" width="1" height="33" fill="#000" fill-opacity="0.55"/>
<rect x="810" y="488" width="3" height="8" fill="#0000ff"/>
<rect x="816" y="441" width="1" height="49" fill="#000" fill-opacity="0.55"/>
<rect x="815" y="444" width="3" height="45" fill="#0000ff"/>
<rect x="820" y="435" width="1" height="59" fill="#000" fill-opacity="0.55"/>
<rect x="819" y="444" width="3" height="43" fill="#ff0000"/>
<rect x="825" y="475" width="1" height="47" fill="#000" fill-opacity="0.55"/>
<rect x="824" y="490" width="3" height="30" fill="#ff0000"/>
<rect x="829" y="514" width="1" height="29" fill="#000" fill-opacity="0.55"/>
<rect x="828" y="519" width="3" height="23" fill="#ff0000"/>
<rect x="834" y="512" width="1" height="33" fill="#000" fill-opacity="0.55"/>
<rect x="833" y="521" width="3" height="21" fill="#0000ff"/>
<rect x="838" y="486" width="1" height="41" fill="#000" fill-opacity="0.55"/>
<rect x="837" y="507" width="3" height="15" fill="#0000ff"/>
<rect x="843" y="505" width="1" height="37" fill="#000" fill-opacity="0.55"/>
<rect x="842" y="507" width="3" height="13" fill="#ff0000"/>
<rect x="848" y="501" width="1" height="32" fill="#000" fill-opacity="0.55"/>
<rect x="847" y="502" width="3" height="20" fill="#0000ff"/>
<rect x="852" y="491" width="1" height="27" fill="#000" fill-opacity="0.55"/>
<rect x="851" y="501" width="3" height="2" fill="#0000ff"/>
<rect x="857" y="497" width="1" height="32" fill="#000" fill-opacity="0.55"/>
<rect x="856" y="501" width="3" height="24" fill="#ff0000"/>
<rect x="861" y="513" width="1" height="23" fill="#000" fill-opacity="0.55"/>
<rect x="860" y="518" width="3" height="7" fill="#0000ff"/>
<rect x="866" y="479" width="1" height="52" fill="#000" fill-opacity="0.55"/>
<rect x="865" y="514" width="3" height="5" fill="#0000ff"/>
<rect x="870" y="488" width="1" height="36" fill="#000" fill-opacity="0.55"/>
<rect x="869" y="510" width="3" height="11" fill="#ff0000"/>
<rect x="875" y="491" width="1" height="33" fill="#000" fill-opacity="0.55"/>
<rect x="874" y="494" width="3" height="27" fill="#0000ff"/>
<rect x="880" y="489" width="1" height="23" fill="#000" fill-opacity="0.55"/>
<rect x="879" y="494" width="3" height="11" fill="#ff0000"/>
<rect x="884" y="476" width="1" height="29" fill="#000" fill-opacity="0.55"/>
<rect x="883" y="492" width="3" height="13" fill="#0000ff"/>
<rect x="889" y="457" width="1" height="38" fill="#000" fill-opacity="0.55"/>
<rect x="888" y="468" width="3" height="25" fill="#0000ff"/>
<rect x="893" y="454" width="1" height="14" fill="#000" fill-opacity="0.55"/>
<rect x="892" y="466" width="3" height="2" fill="#ff0000"/>
<rect x="898" y="450" width="1" height="21" fill="#000" fill-opacity="0.55"/>
<rect x="897" y="460" width="3" height="8" fill="#0000ff"/>
<rect x="902" y="430" width="1" height="31" fill="#000" fill-opacity="0.55"/>
<rect x="901" y="430" width="3" height="31" fill="#0000ff"/>
<rect x="907" y="430" width="1" height="35" fill="#000" fill-opacity="0.55"/>
<rect x="906" y="430" width="3" height="28" fill="#ff0000"/>
<rect x="912" y="455" width="1" height="19" fill="#000" fill-opacity="0.55"/>
<rect x="911" y="457" width="3" height="13" fill="#ff0000"/>
<rect x="916" y="460" width="1" height="23" fill="#000" fill-opacity="0.55"/>
<rect x="915" y="467" width="3" height="11" fill="#ff0000"/>
<rect x="921" y="457" width="1" height="21" fill="#000" fill-opacity="0.55"/>
<rect x="920" y="471" width="3" height="7" fill="#0000ff"/>
<rect x="925" y="460" width="1" height="14" fill="#000" fill-opacity="0.55"/>
<rect x="924" y="471" width="3" height="3" fill="#ff0000"/>
<rect x="930" y="469" width="1" height="78" fill="#000" fill-opacity="0.55"/>
<rect x="929" y="473" width="3" height="73" fill="#ff0000"/>
<rect x="934" y="535" width="1" height="44" fill="#000" fill-opacity="0.55"/>
<rect x="933" y="545" width="3" height="30" fill="#ff0000"/>
<rect x="939" y="557" width="1" height="23" fill="#000" fill-opacity="0.55"/>
<rect x="938" y="560" width="3" height="20" fill="#0000ff"/>
<rect x="943" y="554" width="1" height="15" fill="#000" fill-opacity="0.55"/>
<rect x="942" y="560" width="3" height="4" fill="#ff0000"/>
<rect x="948" y="548" width="1" height="62" fill="#000" fill-opacity="0.55"/>
<rect x="947" y="563" width="3" height="40" fill="#ff0000"/>
<rect x="953" y="583" width="1" height="26" fill="#000" fill-opacity="0.55"/>
<rect x="952" y="586" width="3" height="17" fill="#0000ff"/>
<rect x="957" y="555" width="1" height="34" fill="#000" fill-opacity="0.55"/>
<rect x="956" y="578" width="3" height="9" fill="#0000ff"/>
<rect x="962" y="561" width="1" height="17" fill="#000" fill-opacity="0.55"/>
<rect x="961" y="567" width="3" height="8" fill="#ff0000"/>
<rect x="966" y="569" width="1" height="29" fill="#000" fill-opacity="0.55"/>
<rect x="965" y="574" width="3" height="18" fill="#ff0000"/>
<rect x="971" y="588" width="1" height="39" fill="#000" fill-opacity="0.55"/>
<rect x="970" y="591" width="3" height="31" fill="#ff0000"/>
<rect x="975" y="610" width="1" height="20" fill="#000" fill-opacity="0.55"/>
<rect x="974" y="614" width="3" height="8" fill="#0000ff"/>
<rect x="980" y="611" width="1" height="58" fill="#000" fill-opacity="0.55"/>
<rect x="979" y="614" width="3" height="47" fill="#ff0000"/>
<rect x="985" y="644" width="1" height="22" fill="#000" fill-opacity="0.55"/>
<rect x="984" y="656" width="3" height="9" fill="#0000ff"/>
<rect x="989" y="652" width="1" height="28" fill="#000" fill-opacity="0.55"/>
<rect x="988" y="656" width="3" height="9" fill="#ff0000"/>
<rect x="994" y="649" width="1" height="21" fill="#000" fill-opacity="0.55"/>
<rect x="993" y="659" width="3" height="6" fill="#0000ff"/>
<rect x="998" y="631" width="1" height="44" fill="#000" fill-opacity="0.55"/>
<rect x="997" y="637" width="3" height="23" fill="#0000ff"/>
<rect x="1003" y="635" width="1" height="32" fill="#000" fill-opacity="0.55"/>
<rect x="1002" y="637" width="3" height="16" fill="#ff0000"/>
<rect x="1007" y="654" width="1" height="26" fill="#000" fill-opacity="0.55"/>
<rect x="1006" y="659" width="3" height="18" fill="#ff0000"/>
<rect x="1012" y="675" width="1" height="18" fill="#000" fill-opacity="0.55"/>
<rect x="1011" y="676" width="3" height="15" fill="#ff0000"/>
<rect x="1017" y="674" width="1" height="24" fill="#000" fill-opacity="0.55"/>
<rect x="1016" y="685" width="3" height="6" fill="#0000ff"/>
<rect x="1021" y="652" width="1" height="34" fill="#000" fill-opacity="0.55"/>
<rect x="1020" y="661" width="3" height="25" fill="#0000ff"/>
<rect x="1026" y="660" width="1" height="31" fill="#000" fill-opacity="0.55"/>
<rect x="1025" y="661" width="3" height="30" fill="#ff0000"/>
<rect x="1030" y="685" width="1" height="20" fill="#000" fill-opacity="0.55"/>
<rect x="1029" y="691" width="3" height="2" fill="#ff0000"/>
</g>
</g>
<text x="761.4" y="427.4" font-size="13" font-weight="bold" fill="#555" text-anchor="start" textLength="127.8" lengthAdjust="spacingAndGlyphs" >Euro Fx/U.S. Dollar, D</text>
<rect x="1234.5" y="547.5" width="77" height="13" fill="#e0eaf3" stroke="#64809c" stroke-width="1.2"/>
<text x="1236.7" y="558.0" font-size="9.7" font-weight="normal" fill="#111" text-anchor="start" textLength="72.2" lengthAdjust="spacingAndGlyphs" style="text-rendering:geometricPrecision">1.1095-1.1048</text>
<rect x="1229.5" y="609.5" width="77" height="13" fill="#e0eaf3" stroke="#64809c" stroke-width="1.2"/>
<text x="1231.7" y="620.0" font-size="9.7" font-weight="normal" fill="#111" text-anchor="start" textLength="72.2" lengthAdjust="spacingAndGlyphs" style="text-rendering:geometricPrecision">1.0897-1.0833</text>
<rect x="1229.5" y="629.5" width="77" height="13" fill="#e0eaf3" stroke="#64809c" stroke-width="1.2"/>
<text x="1231.7" y="640.0" font-size="9.7" font-weight="normal" fill="#111" text-anchor="start" textLength="72.2" lengthAdjust="spacingAndGlyphs" style="text-rendering:geometricPrecision">1.0829-1.0763</text>
<rect x="1234.5" y="685.5" width="37" height="13" fill="#e0eaf3" stroke="#64809c" stroke-width="1.2"/>
<text x="1236.7" y="696.0" font-size="9.7" font-weight="normal" fill="#111" text-anchor="start" textLength="32.2" lengthAdjust="spacingAndGlyphs" style="text-rendering:geometricPrecision">1.0616</text>
<rect x="1234.5" y="700.5" width="77" height="13" fill="#e0eaf3" stroke="#64809c" stroke-width="1.2"/>
<text x="1236.7" y="711.0" font-size="9.7" font-weight="normal" fill="#111" text-anchor="start" textLength="72.2" lengthAdjust="spacingAndGlyphs" style="text-rendering:geometricPrecision">1.0519-1.0583</text>
<path d="M1365.5,568.5 L1416.0,568.5 A8,8 0 0 1 1424.0,576.5 L1424.0,592.0 A8,8 0 0 1 1416.0,600.0 L1366.5,600.0 L1323.22,612.83 L1357.5,591 L1357.5,576.5 A8,8 0 0 1 1365.5,568.5 Z" fill="none" stroke="#ffff00" stroke-opacity="0.55" stroke-width="3.8" stroke-linejoin="miter" stroke-miterlimit="10" filter="url(#glow)"/>
<path d="M1365.5,568.5 L1416.0,568.5 A8,8 0 0 1 1424.0,576.5 L1424.0,592.0 A8,8 0 0 1 1416.0,600.0 L1366.5,600.0 L1323.22,612.83 L1357.5,591 L1357.5,576.5 A8,8 0 0 1 1365.5,568.5 Z" fill="none" stroke="#ffff00" stroke-width="3" stroke-linejoin="miter" stroke-miterlimit="10"/>
<text x="1367.6" y="587.7" font-size="12.5" font-weight="bold" fill="#111" text-anchor="start" textLength="44.5" lengthAdjust="spacingAndGlyphs" >Supply</text>
<path d="M1365.5,616.5 L1416.0,616.5 A8,8 0 0 1 1424.0,624.5 L1424.0,640.5 A8,8 0 0 1 1416.0,648.5 L1365.5,648.5 A8,8 0 0 1 1357.5,640.5 L1357.5,640 L1321.41,640.42 L1357.5,623.5 L1357.5,624.5 A8,8 0 0 1 1365.5,616.5 Z" fill="none" stroke="#ffff00" stroke-opacity="0.55" stroke-width="3.8" stroke-linejoin="miter" stroke-miterlimit="10" filter="url(#glow)"/>
<path d="M1365.5,616.5 L1416.0,616.5 A8,8 0 0 1 1424.0,624.5 L1424.0,640.5 A8,8 0 0 1 1416.0,648.5 L1365.5,648.5 A8,8 0 0 1 1357.5,640.5 L1357.5,640 L1321.41,640.42 L1357.5,623.5 L1357.5,624.5 A8,8 0 0 1 1365.5,616.5 Z" fill="none" stroke="#ffff00" stroke-width="3" stroke-linejoin="miter" stroke-miterlimit="10"/>
<text x="1368.6" y="635.9" font-size="12.5" font-weight="bold" fill="#111" text-anchor="start" textLength="44.5" lengthAdjust="spacingAndGlyphs" >Supply</text>
<path d="M1361.5,680.5 L1421.5,680.5 A8,8 0 0 1 1429.5,688.5 L1429.5,704.5 A8,8 0 0 1 1421.5,712.5 L1361.5,712.5 A8,8 0 0 1 1353.5,704.5 L1353.5,706 L1321.42,709.79 L1353.5,688 L1353.5,688.5 A8,8 0 0 1 1361.5,680.5 Z" fill="none" stroke="#ffff00" stroke-opacity="0.55" stroke-width="3.8" stroke-linejoin="miter" stroke-miterlimit="10" filter="url(#glow)"/>
<path d="M1361.5,680.5 L1421.5,680.5 A8,8 0 0 1 1429.5,688.5 L1429.5,704.5 A8,8 0 0 1 1421.5,712.5 L1361.5,712.5 A8,8 0 0 1 1353.5,704.5 L1353.5,706 L1321.42,709.79 L1353.5,688 L1353.5,688.5 A8,8 0 0 1 1361.5,680.5 Z" fill="none" stroke="#ffff00" stroke-width="3" stroke-linejoin="miter" stroke-miterlimit="10"/>
<text x="1363.5" y="699.5" font-size="12.5" font-weight="bold" fill="#111" text-anchor="start" textLength="55.3" lengthAdjust="spacingAndGlyphs" >Demand</text>
<path d="M824.0,630.0 L916.5,630.0 A8,8 0 0 1 924.5,638.0 L924.5,653.5 L993.5,693.5 L916,663.0 L824.0,663.0 A8,8 0 0 1 816.0,655.0 L816.0,638.0 A8,8 0 0 1 824.0,630.0 Z" fill="none" stroke="#ffff00" stroke-opacity="0.55" stroke-width="3.8" stroke-linejoin="miter" stroke-miterlimit="10" filter="url(#glow)"/>
<path d="M824.0,630.0 L916.5,630.0 A8,8 0 0 1 924.5,638.0 L924.5,653.5 L993.5,693.5 L916,663.0 L824.0,663.0 A8,8 0 0 1 816.0,655.0 L816.0,638.0 A8,8 0 0 1 824.0,630.0 Z" fill="none" stroke="#ffff00" stroke-width="3" stroke-linejoin="miter" stroke-miterlimit="10"/>
<text x="826.3" y="649.7" font-size="12.5" font-weight="bold" fill="#111" text-anchor="start" textLength="88" lengthAdjust="spacingAndGlyphs" >clear support</text>
<rect x="1443" y="421" width="3" height="1" fill="#555555" shape-rendering="crispEdges"/>
<text x="1448.4" y="426.1" font-size="10.6" font-weight="normal" fill="#555555" text-anchor="start" >1.15000</text>
<rect x="1443" y="452" width="3" height="1" fill="#555555" shape-rendering="crispEdges"/>
<text x="1448.4" y="457.1" font-size="10.6" font-weight="normal" fill="#555555" text-anchor="start" >1.14000</text>
<rect x="1443" y="483" width="3" height="1" fill="#555555" shape-rendering="crispEdges"/>
<text x="1448.4" y="488.1" font-size="10.6" font-weight="normal" fill="#555555" text-anchor="start" >1.13000</text>
<rect x="1443" y="515" width="3" height="1" fill="#555555" shape-rendering="crispEdges"/>
<text x="1448.4" y="520.1" font-size="10.6" font-weight="normal" fill="#555555" text-anchor="start" >1.12000</text>
<rect x="1443" y="546" width="3" height="1" fill="#555555" shape-rendering="crispEdges"/>
<text x="1448.4" y="551.1" font-size="10.6" font-weight="normal" fill="#555555" text-anchor="start" >1.11000</text>
<rect x="1443" y="577" width="3" height="1" fill="#555555" shape-rendering="crispEdges"/>
<text x="1448.4" y="582.1" font-size="10.6" font-weight="normal" fill="#555555" text-anchor="start" >1.10000</text>
<rect x="1443" y="608" width="3" height="1" fill="#555555" shape-rendering="crispEdges"/>
<text x="1448.4" y="613.1" font-size="10.6" font-weight="normal" fill="#555555" text-anchor="start" >1.09000</text>
<rect x="1443" y="640" width="3" height="1" fill="#555555" shape-rendering="crispEdges"/>
<text x="1448.4" y="645.1" font-size="10.6" font-weight="normal" fill="#555555" text-anchor="start" >1.08000</text>
<rect x="1443" y="671" width="3" height="1" fill="#555555" shape-rendering="crispEdges"/>
<text x="1448.4" y="676.1" font-size="10.6" font-weight="normal" fill="#555555" text-anchor="start" >1.07000</text>
<rect x="1443" y="702" width="3" height="1" fill="#555555" shape-rendering="crispEdges"/>
<text x="1448.4" y="707.1" font-size="10.6" font-weight="normal" fill="#555555" text-anchor="start" >1.06000</text>
<rect x="1442" y="684" width="50" height="16" fill="#ff0000" shape-rendering="crispEdges"/>
<rect x="1443" y="691" width="3" height="1" fill="#fff" shape-rendering="crispEdges"/>
<text x="1448.2" y="695.9" font-size="10.7" font-weight="bold" fill="#fff" text-anchor="start" >1.06347</text>
<rect x="762" y="723" width="1" height="2" fill="#555555" shape-rendering="crispEdges"/>
<text x="762.5" y="736" font-size="10.6" font-weight="normal" fill="#555555" text-anchor="middle" >Sep</text>
<rect x="861" y="723" width="1" height="2" fill="#555555" shape-rendering="crispEdges"/>
<text x="861.5" y="736" font-size="10.6" font-weight="normal" fill="#555555" text-anchor="middle" >Oct</text>
<rect x="962" y="723" width="1" height="2" fill="#555555" shape-rendering="crispEdges"/>
<text x="962.5" y="736" font-size="10.6" font-weight="normal" fill="#555555" text-anchor="middle" >Nov</text>
<rect x="1058" y="723" width="1" height="2" fill="#555555" shape-rendering="crispEdges"/>
<text x="1058.5" y="736" font-size="10.6" font-weight="normal" fill="#555555" text-anchor="middle" >Dec</text>
<rect x="1163" y="723" width="1" height="2" fill="#555555" shape-rendering="crispEdges"/>
<text x="1163.5" y="736" font-size="10.6" font-weight="bold" fill="#555555" text-anchor="middle" >2016</text>
<rect x="1259" y="723" width="1" height="2" fill="#555555" shape-rendering="crispEdges"/>
<text x="1259.5" y="736" font-size="10.6" font-weight="normal" fill="#555555" text-anchor="middle" >Feb</text>
<rect x="1355" y="723" width="1" height="2" fill="#555555" shape-rendering="crispEdges"/>
<text x="1355.5" y="736" font-size="10.6" font-weight="normal" fill="#555555" text-anchor="middle" >Mar</text>
</svg></body></html>
